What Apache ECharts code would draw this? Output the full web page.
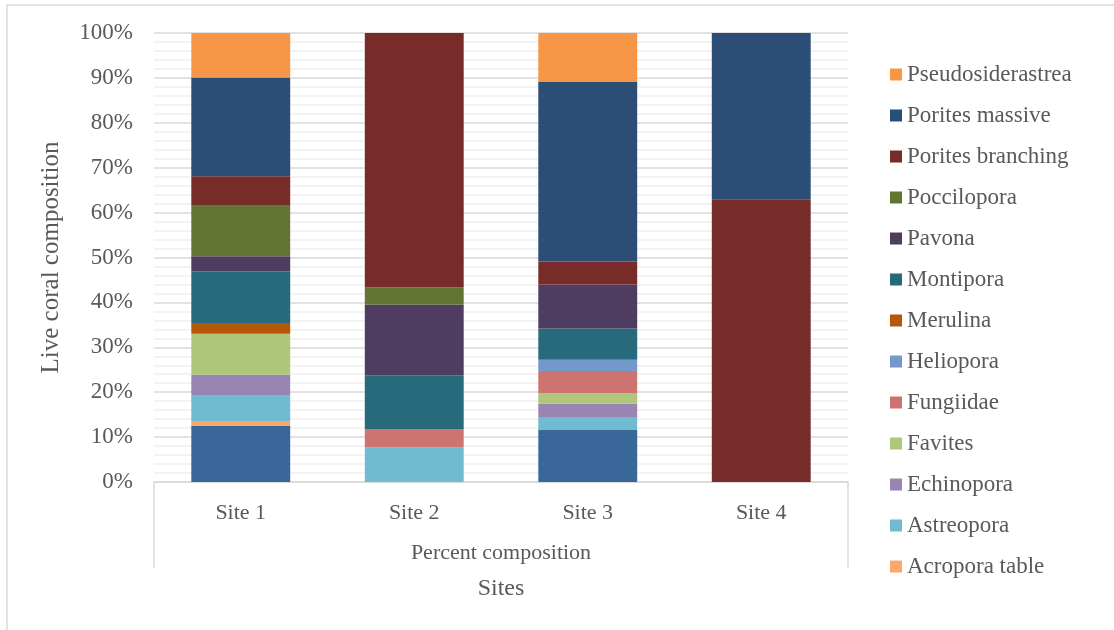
<!DOCTYPE html>
<html>
<head>
<meta charset="utf-8">
<title>Live coral composition</title>
<script src="https://cdn.jsdelivr.net/npm/echarts@6/dist/echarts.min.js"></script>
<style>
  html, body { margin: 0; padding: 0; background: #fff; }
  #chart { width: 1114px; height: 630px; }
</style>
</head>
<body>
<div id="chart"></div>
<script>
// categories
const sites = ['Site 1', 'Site 2', 'Site 3', 'Site 4']
const yTicks = [0, 10, 20, 30, 40, 50, 60, 70, 80, 90, 100]

// percent of live coral per site
const acroporaBranching = [12.5, 0, 11.6, 0]   // bottom series, not shown in legend
const acroporaTable = [1.1, 0, 0, 0]
const astreopora = [5.8, 7.7, 2.7, 0]
const echinopora = [4.5, 0, 3.1, 0]
const favites = [9.1, 0, 2.4, 0]
const fungiidae = [0, 4.1, 4.9, 0]
const heliopora = [0, 0, 2.5, 0]
const merulina = [2.4, 0, 0, 0]
const montipora = [11.5, 12.0, 7.0, 0]
const pavona = [3.4, 15.7, 9.8, 0]
const poccilopora = [11.4, 3.9, 0, 0]
const poritesBranching = [6.4, 56.6, 5.1, 63.0]
const poritesMassive = [22.0, 0, 40.1, 37.0]
const pseudosiderastrea = [9.9, 0, 10.8, 0]

const font = '"Liberation Serif", "DejaVu Serif", serif'
const txt = '#595959'

// stacking order, bottom to top
const layers = [
  ['Acropora branching', acroporaBranching, '#3A6799'],
  ['Acropora table', acroporaTable, '#F9A86C'],
  ['Astreopora', astreopora, '#6FBCD0'],
  ['Echinopora', echinopora, '#9A84B4'],
  ['Favites', favites, '#AFC77B'],
  ['Fungiidae', fungiidae, '#CD7370'],
  ['Heliopora', heliopora, '#7399CB'],
  ['Merulina', merulina, '#B4570A'],
  ['Montipora', montipora, '#276A7B'],
  ['Pavona', pavona, '#4E3C61'],
  ['Poccilopora', poccilopora, '#627532'],
  ['Porites branching', poritesBranching, '#772C2A'],
  ['Porites massive', poritesMassive, '#2C4E76'],
  ['Pseudosiderastrea', pseudosiderastrea, '#F79646']
]

const series = layers.map(function (l) {
  return {
    name: l[0],
    type: 'bar',
    stack: 'total',
    barWidth: '57%',
    data: l[1],
    itemStyle: { color: l[2] }
  }
})

// legend lists top to bottom, the first layer is cut off in the original
const legendNames = layers.slice(1).map(function (l) { return l[0] }).reverse()

const chart = echarts.init(document.getElementById('chart'))
chart.setOption({
  animation: false,
  textStyle: { fontFamily: font },
  graphic: [{
    type: 'rect',
    shape: { x: 7, y: 5, width: 1300, height: 800 },
    style: { fill: 'none', stroke: '#D9D9D9', lineWidth: 1.5 },
    silent: true
  }],
  grid: { left: 154, right: 266, top: 33, bottom: 148 },
  legend: {
    orient: 'vertical',
    left: 885,
    top: 58,
    itemWidth: 12,
    itemHeight: 12,
    itemGap: 18,
    icon: 'rect',
    data: legendNames,
    textStyle: { fontFamily: font, fontSize: 23, color: txt, padding: [0, 0, 0, 0] }
  },
  xAxis: [{
    type: 'category',
    data: sites,
    name: 'Sites',
    nameLocation: 'middle',
    nameGap: 95,
    nameTextStyle: { fontFamily: font, fontSize: 24, color: txt },
    axisLine: { lineStyle: { color: '#D9D9D9', width: 1.5 } },
    axisTick: { show: false },
    axisLabel: { fontFamily: font, fontSize: 22, color: txt, margin: 20 }
  }, {
    type: 'category',
    data: ['Percent composition'],
    position: 'bottom',
    axisLine: { show: false },
    axisTick: { show: true, length: 86, lineStyle: { color: '#D9D9D9', width: 1.5 } },
    axisLabel: { fontFamily: font, fontSize: 22, color: txt, margin: 60 }
  }],
  yAxis: {
    type: 'value',
    min: yTicks[0],
    max: yTicks[yTicks.length - 1],
    interval: 10,
    name: 'Live coral composition',
    nameLocation: 'middle',
    nameGap: 90,
    nameTextStyle: { fontFamily: font, fontSize: 25, color: txt },
    axisLine: { show: false },
    axisTick: { show: false },
    axisLabel: { fontFamily: font, fontSize: 23, color: txt, margin: 21, formatter: '{value}%' },
    splitLine: { lineStyle: { color: '#D9D9D9', width: 1.5 } },
    minorTick: { show: false, splitNumber: 5 },
    minorSplitLine: { show: true, lineStyle: { color: '#F0F0F0', width: 1.5 } }
  },
  series: series
})
</script>
</body>
</html>
